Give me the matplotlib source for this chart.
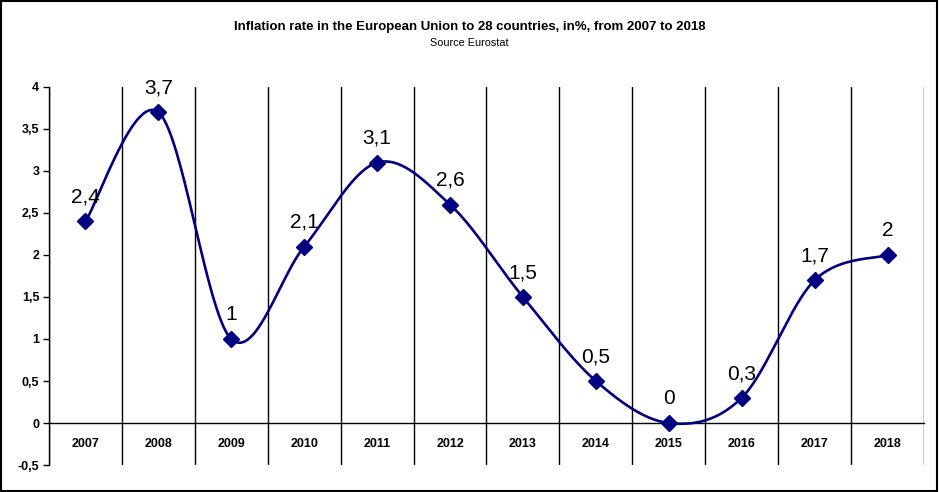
import numpy as np
import matplotlib
matplotlib.use("Agg")
import matplotlib.pyplot as plt
from matplotlib.patches import Rectangle

years = ["2007", "2008", "2009", "2010", "2011", "2012", "2013", "2014", "2015", "2016", "2017", "2018"]
rates = [2.4, 3.7, 1.0, 2.1, 3.1, 2.6, 1.5, 0.5, 0.0, 0.3, 1.7, 2.0]
labels = ["2,4", "3,7", "1", "2,1", "3,1", "2,6", "1,5", "0,5", "0", "0,3", "1,7", "2"]
yticks = [-0.5, 0, 0.5, 1, 1.5, 2, 2.5, 3, 3.5, 4]
ytick_labels = ["-0,5", "0", "0,5", "1", "1,5", "2", "2,5", "3", "3,5", "4"]

plt.rcParams['font.family'] = ['Liberation Sans', 'DejaVu Sans']
navy = "#000080"

fig = plt.figure(figsize=(9.39, 4.92), dpi=100)
ax = fig.add_axes([49/939, 1 - 465/492, (924 - 49)/939, (465 - 87)/492])

ax.spines['bottom'].set_position(('data', 0))
ax.spines['bottom'].set_linewidth(1)
ax.spines['top'].set_visible(False)
ax.spines['right'].set_visible(False)
ax.spines['left'].set_linewidth(1)

x = np.arange(len(rates), dtype=float)
y = np.array(rates, dtype=float)

# Excel-like smoothed line (Catmull-Rom Bezier)
px = np.concatenate([[x[0]], x, [x[-1]]])
py = np.concatenate([[y[0]], y, [y[-1]]])
sx, sy = [], []
t = np.linspace(0, 1, 60)
for i in range(1, len(px) - 2):
    p0 = np.array([px[i], py[i]])
    p3 = np.array([px[i + 1], py[i + 1]])
    p1 = p0 + (np.array([px[i + 1], py[i + 1]]) - np.array([px[i - 1], py[i - 1]])) / 6
    p2 = p3 - (np.array([px[i + 2], py[i + 2]]) - np.array([px[i], py[i]])) / 6
    b = ((1 - t) ** 3)[:, None] * p0 + (3 * (1 - t) ** 2 * t)[:, None] * p1 + \
        (3 * (1 - t) * t ** 2)[:, None] * p2 + (t ** 3)[:, None] * p3
    sx.extend(b[:, 0]); sy.extend(b[:, 1])

ax.plot(sx, sy, color=navy, lw=1.9, zorder=3, solid_capstyle='round')
ax.plot(x, y, linestyle='none', marker='D', color=navy, markersize=8, zorder=4)

for xi, yi, lab in zip(x, y, labels):
    ax.annotate(lab, (xi, yi), xytext=(0, 13.5), textcoords='offset points',
                ha='center', va='baseline', fontsize=15, color='black', zorder=5)

ax.set_xlim(-0.5, len(rates) - 0.5)
ax.set_ylim(-0.5, 4)

ax.set_yticks(yticks)
ax.tick_params(axis='y', direction='out', length=4, width=1, pad=3, colors='black')
ax.set_yticklabels(ytick_labels)

ax.set_xticks(x)
ax.tick_params(axis='x', length=0, pad=11)
ax.set_xticklabels(years)
ax.set_xticks(np.arange(-0.5, len(rates) + 0.5, 1.0), minor=True)
ax.tick_params(axis='x', which='minor', length=0)
ax.grid(True, axis='x', which='minor', color='black', lw=1)

for lab in ax.get_xticklabels() + ax.get_yticklabels():
    lab.set_fontsize(9)
    lab.set_fontweight('bold')

fig.text(0.5, 1 - 27/492, "Inflation rate in the European Union to 28 countries, in%, from 2007 to 2018",
         ha='center', va='center', fontsize=9.5, fontweight='bold')
fig.text(0.5, 1 - 43/492, "Source Eurostat", ha='center', va='center', fontsize=7.8)

fig.patches.append(Rectangle((0.001, 0.002), 0.997, 0.995, transform=fig.transFigure,
                             fill=False, edgecolor='black', lw=1.5))

fig.savefig("out.png", dpi=100)
